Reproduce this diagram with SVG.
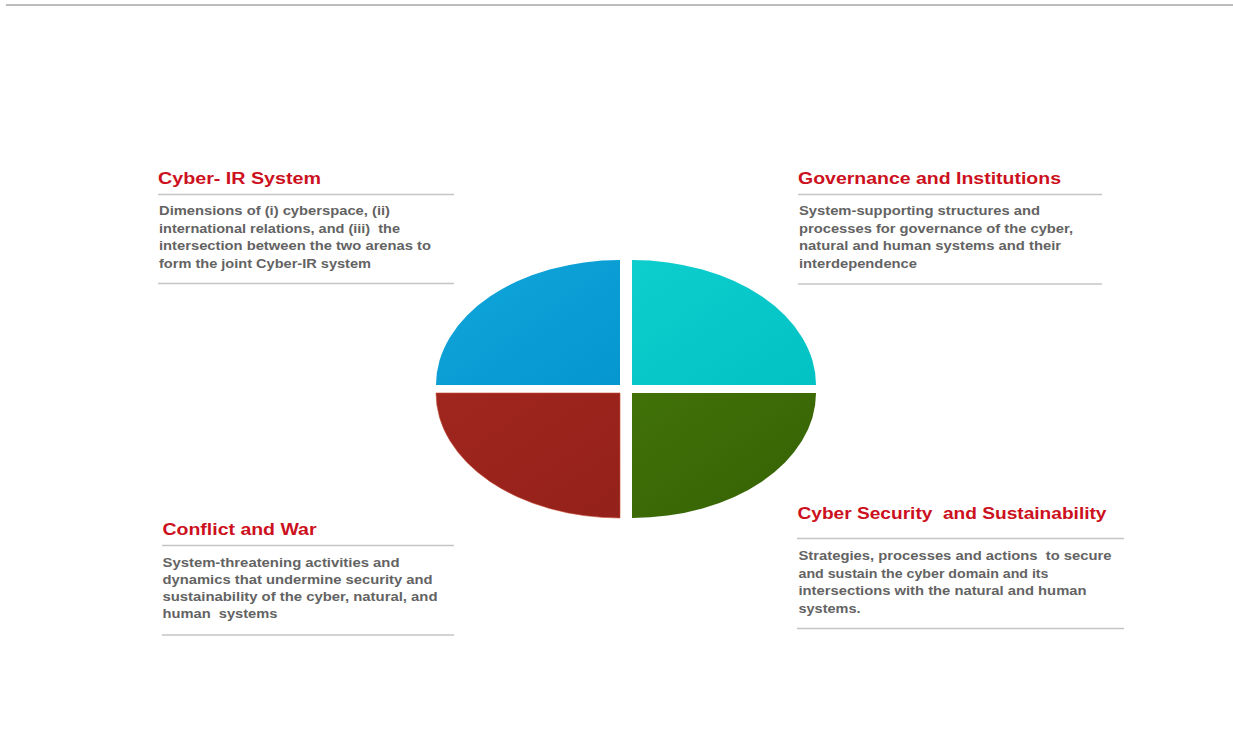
<svg xmlns="http://www.w3.org/2000/svg" width="1233" height="740" viewBox="0 0 1233 740">
<defs>
<linearGradient id="gBlue" x1="0" y1="0" x2="1" y2="1"><stop offset="0" stop-color="#10a6da"/><stop offset="1" stop-color="#0596d0"/></linearGradient>
<linearGradient id="gCyan" x1="0" y1="0" x2="1" y2="1"><stop offset="0" stop-color="#0ecdcd"/><stop offset="1" stop-color="#03c2c4"/></linearGradient>
<linearGradient id="gRed" x1="0" y1="0" x2="1" y2="1"><stop offset="0" stop-color="#a0261e"/><stop offset="1" stop-color="#94211b"/></linearGradient>
<linearGradient id="gGreen" x1="0" y1="0" x2="1" y2="1"><stop offset="0" stop-color="#417109"/><stop offset="1" stop-color="#366203"/></linearGradient>
</defs>
<style>
text{white-space:pre}
.title{font-family:"Liberation Sans",Arial,sans-serif;font-weight:bold;font-size:16px;fill:#cc1020}
.body{font-family:"Liberation Sans",Arial,sans-serif;font-weight:bold;font-size:12px;fill:#636363}
.rule{stroke:#c4c4c4;stroke-width:1.6;fill:none}
</style>
<rect width="1233" height="740" fill="#ffffff"/>
<line x1="6" y1="5" x2="1233" y2="5" stroke="#bdbdbd" stroke-width="2"/>

<g id="ellipse">
<path id="q-tl" d="M620,385 L436,385 A184,125 0 0 1 620,260 Z" fill="url(#gBlue)"/>
<path id="q-tr" d="M632,385 L632,260 A184,125 0 0 1 816,385 Z" fill="url(#gCyan)"/>
<path id="q-bl" d="M620,393 L620,518 A184,125 0 0 1 436,393 Z" fill="url(#gRed)" stroke="#c24a30" stroke-width="0.6"/>
<path id="q-br" d="M632,393 L816,393 A184,125 0 0 1 632,518 Z" fill="url(#gGreen)"/>
</g>

<g id="cyber-ir">
<text class="title" x="158" y="184" textLength="163" lengthAdjust="spacingAndGlyphs">Cyber- IR System</text>
<line class="rule" x1="158" y1="194.5" x2="454" y2="194.5"/>
<text class="body" x="159" y="215" textLength="231" lengthAdjust="spacingAndGlyphs">Dimensions of (i) cyberspace, (ii)</text>
<text class="body" x="159" y="232.5" textLength="241" lengthAdjust="spacingAndGlyphs">international relations, and (iii)  the</text>
<text class="body" x="159" y="250" textLength="272" lengthAdjust="spacingAndGlyphs">intersection between the two arenas to</text>
<text class="body" x="159" y="267.5" textLength="212" lengthAdjust="spacingAndGlyphs">form the joint Cyber-IR system</text>
<line class="rule" x1="158" y1="283.5" x2="454" y2="283.5"/>
</g>

<g id="governance">
<text class="title" x="798" y="184" textLength="263" lengthAdjust="spacingAndGlyphs">Governance and Institutions</text>
<line class="rule" x1="798" y1="194.5" x2="1102" y2="194.5"/>
<text class="body" x="799" y="215" textLength="241" lengthAdjust="spacingAndGlyphs">System-supporting structures and</text>
<text class="body" x="799" y="232.5" textLength="274" lengthAdjust="spacingAndGlyphs">processes for governance of the cyber,</text>
<text class="body" x="799" y="250" textLength="262" lengthAdjust="spacingAndGlyphs">natural and human systems and their</text>
<text class="body" x="799" y="267.5" textLength="118" lengthAdjust="spacingAndGlyphs">interdependence</text>
<line class="rule" x1="798" y1="284" x2="1102" y2="284"/>
</g>

<g id="conflict">
<text class="title" x="162.5" y="535" textLength="154" lengthAdjust="spacingAndGlyphs">Conflict and War</text>
<line class="rule" x1="162" y1="545.5" x2="454" y2="545.5"/>
<text class="body" x="162.5" y="566.5" textLength="237" lengthAdjust="spacingAndGlyphs">System-threatening activities and</text>
<text class="body" x="162.5" y="584" textLength="270" lengthAdjust="spacingAndGlyphs">dynamics that undermine security and</text>
<text class="body" x="162.5" y="601" textLength="275" lengthAdjust="spacingAndGlyphs">sustainability of the cyber, natural, and</text>
<text class="body" x="162.5" y="618" textLength="115" lengthAdjust="spacingAndGlyphs">human  systems</text>
<line class="rule" x1="162" y1="635" x2="454" y2="635"/>
</g>

<g id="security">
<text class="title" x="797.5" y="519" textLength="309" lengthAdjust="spacingAndGlyphs">Cyber Security  and Sustainability</text>
<line class="rule" x1="797" y1="538.5" x2="1124" y2="538.5"/>
<text class="body" x="798.5" y="560" textLength="313" lengthAdjust="spacingAndGlyphs">Strategies, processes and actions  to secure</text>
<text class="body" x="798.5" y="577.5" textLength="250" lengthAdjust="spacingAndGlyphs">and sustain the cyber domain and its</text>
<text class="body" x="798.5" y="595" textLength="288" lengthAdjust="spacingAndGlyphs">intersections with the natural and human</text>
<text class="body" x="798.5" y="612.5" textLength="62" lengthAdjust="spacingAndGlyphs">systems.</text>
<line class="rule" x1="797" y1="628.5" x2="1124" y2="628.5"/>
</g>
</svg>
